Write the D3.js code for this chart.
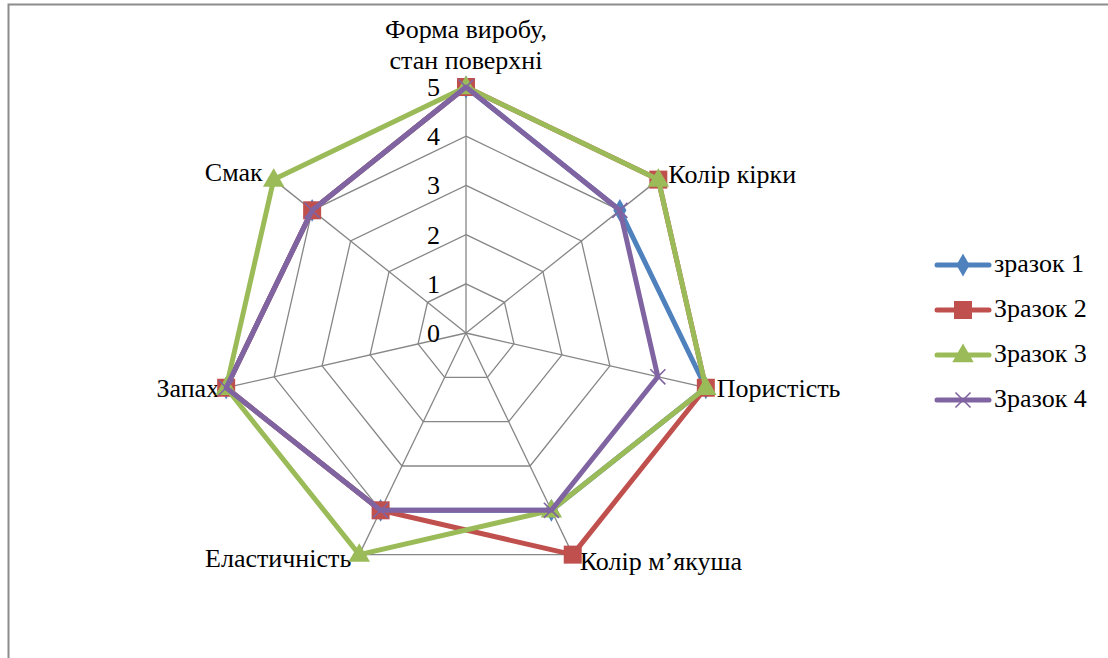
<!DOCTYPE html>
<html><head><meta charset="utf-8">
<script src="https://cdn.jsdelivr.net/npm/d3@7"></script>
<style>body{margin:0;background:#fff}svg{display:block}text{fill:#000}</style>
</head><body><svg id="c" width="1108" height="658"></svg>
<script>
const categories = ["Форма виробу,\nстан поверхні","Колір кірки","Пористість","Колір м’якуша","Еластичність","Запах","Смак"];
const seriesNames = ["зразок 1","Зразок 2","Зразок 3","Зразок 4"];
const zrazok1 = [5,4,5,4,4,5,4];
const zrazok2 = [5,5,5,5,4,5,4];
const zrazok3 = [5,5,5,4,5,5,5];
const zrazok4 = [5,4,4,4,4,5,4];
const tickValues = [0,1,2,3,4,5];
const seriesValues = [zrazok1, zrazok2, zrazok3, zrazok4];
const colors = ["#4F81BD","#C0504D","#9BBB59","#8064A2"];
const symbols = ["diamond","square","triangle","cross"];

const FS = 26;
const FONT = "'Liberation Serif', 'Tinos', 'DejaVu Serif', serif";
const svg = d3.select("#c").style("font-family", FONT);
const cx = 466, cy = 333, R = 246;
const r = d3.scaleLinear().domain([0,5]).range([0,R]);
const ang = d3.scaleLinear().domain([0,categories.length]).range([0,2*Math.PI]);
const pt = (i,v) => [cx + r(v)*Math.sin(ang(i)), cy - r(v)*Math.cos(ang(i))];

// border
svg.append("path").attr("d","M8.5,658 L8.5,4.5 L1108,4.5").attr("fill","none").attr("stroke","#8c8c8c").attr("stroke-width",2);

// grid
const g = svg.append("g");
tickValues.filter(t=>t>0).forEach(t=>{
  g.append("path").attr("d", d3.line()(categories.map((c,i)=>pt(i,t))) + "Z")
   .attr("fill","none").attr("stroke","#868686").attr("stroke-width",1.3);
});
categories.forEach((c,i)=>{
  const p = pt(i,5);
  g.append("line").attr("x1",cx).attr("y1",cy).attr("x2",p[0]).attr("y2",p[1])
   .attr("stroke","#868686").attr("stroke-width",1.3);
});
// tick labels
tickValues.forEach(t=>{
  svg.append("text").attr("x",cx-26).attr("y",cy - r(t)+3).attr("text-anchor","end")
   .attr("dominant-baseline","middle").attr("font-size",FS).style("font-family",FONT).text(t);
});

// category labels
const labelPos = [
  {dx:0, dy:0, anchor:"middle"},
  {dx:10, dy:-3, anchor:"start"},
  {dx:11, dy:3, anchor:"start"},
  {dx:7, dy:9, anchor:"start"},
  {dx:-8, dy:6, anchor:"end"},
  {dx:-7, dy:3, anchor:"end"},
  {dx:-11, dy:-5, anchor:"end"}
];
categories.forEach((c,i)=>{
  const p = pt(i,5), lp = labelPos[i];
  const lines = c.split("\n");
  if (i===0) {
    lines.forEach((l,k)=>{
      svg.append("text").attr("x",p[0]).attr("y",38+k*31).attr("text-anchor","middle").attr("font-size",FS).style("font-family",FONT).text(l);
    });
  } else {
    svg.append("text").attr("x",p[0]+lp.dx).attr("y",p[1]+lp.dy).attr("text-anchor",lp.anchor)
      .attr("dominant-baseline","middle").attr("font-size",FS).style("font-family",FONT).text(c);
  }
});

function drawMarker(sel, type, color, x, y) {
  if (type==="diamond") {
    sel.append("path").attr("d", d3.symbol(d3.symbolDiamond, 150)()).attr("transform",`translate(${x},${y})`).attr("fill",color);
  } else if (type==="square") {
    sel.append("rect").attr("x",x-9).attr("y",y-9).attr("width",18).attr("height",18).attr("fill",color);
  } else if (type==="triangle") {
    sel.append("path").attr("d", d3.symbol(d3.symbolTriangle, 200)()).attr("transform",`translate(${x},${y+1})`).attr("fill",color);
  } else {
    sel.append("path").attr("d", d3.symbol(d3.symbolX, 150)()).attr("transform",`translate(${x},${y})`)
      .attr("fill","none").attr("stroke",color).attr("stroke-width",1.6);
  }
}

// series
seriesValues.forEach((vals,s)=>{
  const sg = svg.append("g");
  sg.append("path").attr("d", d3.line()(vals.map((v,i)=>pt(i,v))) + "Z")
    .attr("fill","none").attr("stroke",colors[s]).attr("stroke-width",5).attr("stroke-linejoin","round");
  vals.forEach((v,i)=>{ const p = pt(i,v); drawMarker(sg, symbols[s], colors[s], p[0], p[1]); });
});

// legend
seriesNames.forEach((n,s)=>{
  const y = 265 + s*45;
  const lg = svg.append("g");
  lg.append("line").attr("x1",937).attr("x2",989).attr("y1",y).attr("y2",y)
    .attr("stroke",colors[s]).attr("stroke-width",5).attr("stroke-linecap","round");
  drawMarker(lg, symbols[s], colors[s], 963, y);
  lg.append("text").attr("x",994).attr("y",y+1).attr("dominant-baseline","middle").attr("font-size",FS).style("font-family",FONT).text(n);
});
</script></body></html>
